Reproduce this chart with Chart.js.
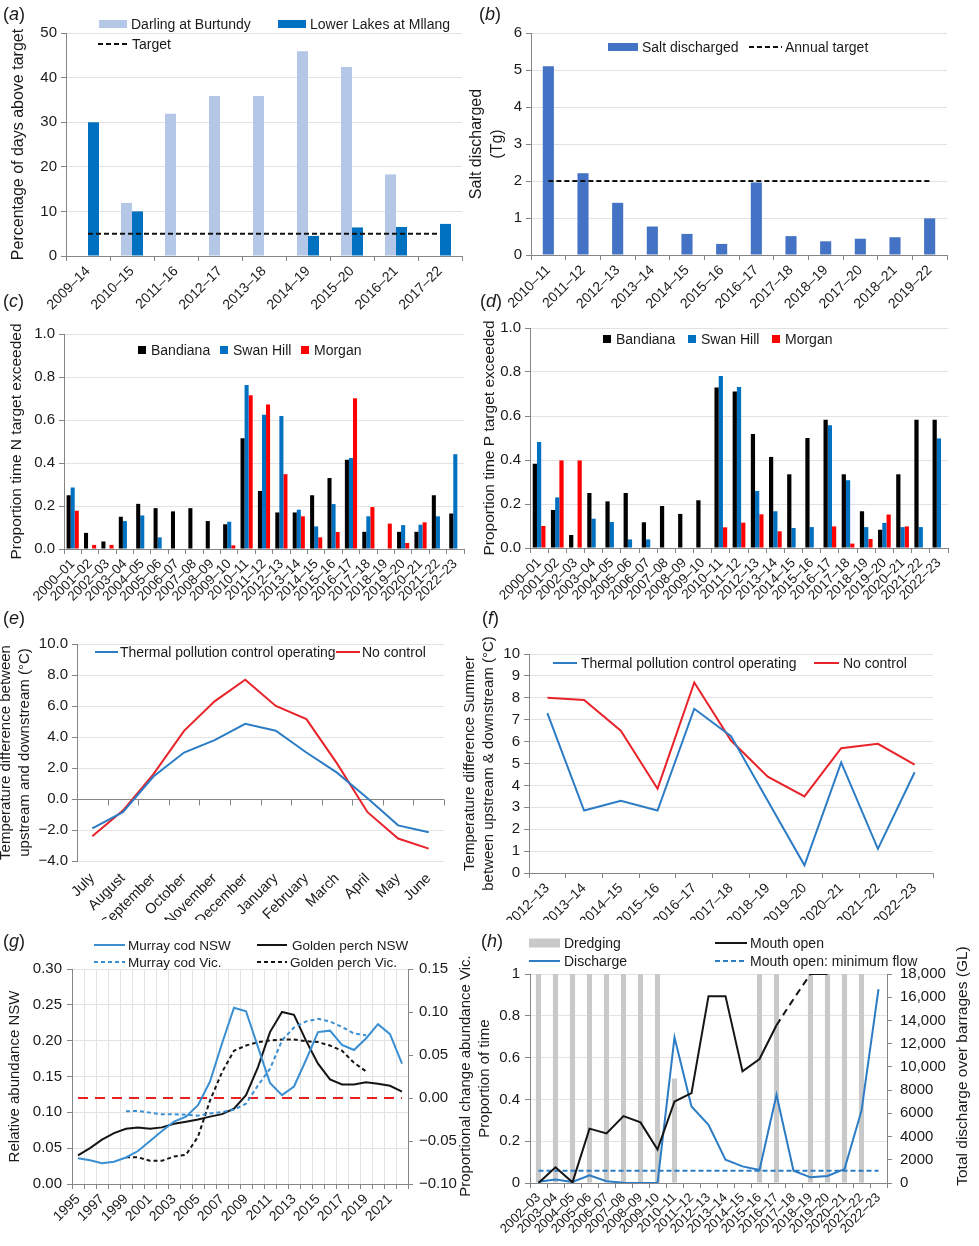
<!DOCTYPE html>
<html>
<head>
<meta charset="utf-8">
<title>River condition indicators</title>
<script src="https://cdn.jsdelivr.net/npm/chart.js@4.4.0/dist/chart.umd.min.js"></script>
<style>
  body { margin: 0; background: #fff; }
  #page { position: relative; width: 979px; height: 1246px; overflow: hidden; background: #fff;
          font-family: "Liberation Sans", Arial, Helvetica, sans-serif; color: #1a1a1a; }
  #page canvas { position: absolute; }
  .tag { position: absolute; font-size: 18px; line-height: 20px; }
</style>
</head>
<body>
<div id="page">
  <canvas id="chartA" width="470" height="310" style="left:0;top:0"></canvas>
  <canvas id="chartB" width="513" height="310" style="left:466px;top:0"></canvas>
  <canvas id="chartC" width="480" height="310" style="left:0;top:310px"></canvas>
  <canvas id="chartD" width="499" height="310" style="left:480px;top:310px"></canvas>
  <canvas id="chartE" width="464" height="300" style="left:-4px;top:620px"></canvas>
  <canvas id="chartF" width="519" height="300" style="left:460px;top:620px"></canvas>
  <canvas id="chartG" width="480" height="326" style="left:0;top:920px"></canvas>
  <canvas id="chartH" width="503" height="326" style="left:476px;top:920px"></canvas>

  <span class="tag" style="left:3px;top:4px">(<i>a</i>)</span>
  <span class="tag" style="left:479px;top:4px">(<i>b</i>)</span>
  <span class="tag" style="left:3px;top:291px">(<i>c</i>)</span>
  <span class="tag" style="left:480px;top:291px">(<i>d</i>)</span>
  <span class="tag" style="left:3px;top:608px">(<i>e</i>)</span>
  <span class="tag" style="left:482px;top:608px">(<i>f</i>)</span>
  <span class="tag" style="left:3px;top:931px">(<i>g</i>)</span>
  <span class="tag" style="left:481px;top:931px">(<i>h</i>)</span>
</div>

<script>
// ---------- data ----------

// (a) salinity, % of days above target
const periodsA = ['2009–14', '2010–15', '2011–16', '2012–17', '2013–18', '2014–19', '2015–20', '2016–21', '2017–22'];
const darlingBurtundy = [null, 11.9, 31.9, 35.9, 35.9, 45.9, 42.4, 18.3, null];
const lowerLakesMilang = [30, 10, null, null, null, 4.5, 6.4, 6.5, 7.2];
const salinityTarget = [5, 5, 5, 5, 5, 5, 5, 5, 5];

// (b) salt discharged (Tg)
const periodsB = ['2010–11', '2011–12', '2012–13', '2013–14', '2014–15', '2015–16', '2016–17', '2017–18', '2018–19', '2017–20', '2018–21', '2019–22'];
const saltDischarged = [5.1, 2.21, 1.41, 0.77, 0.57, 0.3, 1.96, 0.51, 0.37, 0.44, 0.48, 0.99];
const saltTarget = [2, 2, 2, 2, 2, 2, 2, 2, 2, 2, 2, 2];

// (c) and (d) nutrients, proportion of time target exceeded
const waterYears = ['2000–01', '2001–02', '2002–03', '2003–04', '2004–05', '2005–06', '2006–07', '2007–08',
  '2008–09', '2009–10', '2010–11', '2011–12', '2012–13', '2013–14', '2014–15', '2015–16', '2016–17',
  '2017–18', '2018–19', '2019–20', '2020–21', '2021–22', '2022–23'];
const nBandiana = [0.25, 0.075, 0.035, 0.15, 0.21, 0.19, 0.175, 0.19, 0.13, 0.115, 0.515, 0.27, 0.17, 0.17, 0.25, 0.33, 0.415, 0.08, null, 0.08, 0.08, 0.25, 0.165];
const nSwanHill = [0.286, null, null, 0.13, 0.156, 0.054, null, null, null, 0.127, 0.763, 0.624, 0.619, 0.183, 0.105, 0.209, 0.423, 0.152, null, 0.111, 0.113, 0.152, 0.441];
const nMorgan = [0.178, 0.019, 0.019, null, null, null, null, null, null, 0.017, 0.715, 0.672, 0.348, 0.152, 0.054, 0.079, 0.701, 0.195, 0.118, 0.028, 0.124, null, null];
const pBandiana = [0.383, 0.173, 0.059, 0.25, 0.212, 0.25, 0.117, 0.191, 0.155, 0.217, 0.73, 0.711, 0.518, 0.414, 0.335, 0.5, 0.583, 0.335, 0.167, 0.083, 0.335, 0.583, 0.583];
const pSwanHill = [0.482, 0.23, null, 0.133, 0.118, 0.039, 0.039, null, null, null, 0.782, 0.732, 0.259, 0.167, 0.091, 0.095, 0.558, 0.308, 0.095, 0.114, 0.095, 0.095, 0.498];
const pMorgan = [0.1, 0.398, 0.398, null, null, null, null, null, null, null, 0.094, 0.115, 0.153, 0.076, null, null, 0.098, 0.02, 0.041, 0.152, 0.098, null, null];

// (e) monthly temperature difference (°C)
const months = ['July', 'August', 'September', 'October', 'November', 'December', 'January', 'February', 'March', 'April', 'May', 'June'];
const monthlyControl = [-1.9, -0.85, 1.45, 3.0, 3.8, 4.85, 4.4, 3.0, 1.7, 0.05, -1.7, -2.15];
const monthlyNoControl = [-2.4, -0.75, 1.6, 4.4, 6.3, 7.7, 6.0, 5.15, 2.3, -0.85, -2.55, -3.2];

// (f) summer temperature difference (°C)
const summers = ['2012–13', '2013–14', '2014–15', '2015–16', '2016–17', '2017–18', '2018–19', '2019–20', '2020–21', '2021–22', '2022–23'];
const summerControl = [7.3, 2.85, 3.3, 2.85, 7.5, 6.25, 3.3, 0.35, 5.05, 1.1, 4.6];
const summerNoControl = [8.0, 7.9, 6.5, 3.85, 8.7, 6.05, 4.4, 3.5, 5.7, 5.9, 4.95];

// (g) fish abundance
const fishYears = ['1995', '1996', '1997', '1998', '1999', '2000', '2001', '2002', '2003', '2004', '2005', '2006', '2007', '2008',
  '2009', '2010', '2011', '2012', '2013', '2014', '2015', '2016', '2017', '2018', '2019', '2020', '2021', '2022'];
const codNSW = [0.036, 0.033, 0.029, 0.031, 0.037, 0.046, 0.06, 0.074, 0.087, 0.094, 0.11, 0.143, 0.196, 0.246,
  0.241, 0.191, 0.141, 0.124, 0.136, 0.173, 0.212, 0.214, 0.194, 0.187, 0.203, 0.223, 0.209, 0.168];
const perchNSW = [0.04, 0.05, 0.062, 0.071, 0.077, 0.079, 0.077, 0.079, 0.084, 0.087, 0.09, 0.094, 0.0975, 0.105,
  0.124, 0.163, 0.212, 0.24, 0.236, 0.2, 0.168, 0.146, 0.139, 0.139, 0.142, 0.14, 0.137, 0.129];
const codVic = [null, null, null, null, -0.0155, -0.015, -0.017, -0.019, -0.019, -0.0194, -0.0205, -0.018, -0.0163, -0.0136,
  -0.0066, 0.0147, 0.034, 0.067, 0.082, 0.089, 0.092, 0.089, 0.0826, 0.075, 0.073, null, null, null];
const perchVic = [null, null, null, null, -0.069, -0.069, -0.073, -0.073, -0.068, -0.066, -0.045, -0.003, 0.03, 0.055,
  0.061, 0.065, 0.067, 0.068, 0.068, 0.066, 0.065, 0.061, 0.055, 0.041, 0.031, null, null, null];
const vicNoChange = [0, 0, 0, 0, 0, 0, 0, 0, 0, 0, 0, 0, 0, 0, 0, 0, 0, 0, 0, 0, 0, 0, 0, 0, 0, 0, 0, 0];

// (h) Murray Mouth
const mouthYears = ['2002–03', '2003–04', '2004–05', '2005–06', '2006–07', '2007–08', '2008–09', '2009–10', '2010–11',
  '2011–12', '2012–13', '2013–14', '2014–15', '2015–16', '2016–17', '2017–18', '2018–19', '2019–20', '2020–21', '2021–22', '2022–23'];
const dredging = [1, 1, 1, 1, 1, 1, 1, 1, 0.5, null, null, null, null, 1, 1, null, 1, 1, 1, 1, null];
const mouthOpen = [0, 0.075, 0.003, 0.26, 0.237, 0.32, 0.29, 0.16, 0.39, 0.43, 0.894, 0.894, 0.534, 0.593, 0.755, 0.88, 1, 1, null, null, null];
const dischargeGL = [100, 290, 90, 660, 150, 30, 0, 0, 12550, 6590, 5020, 2010, 1430, 1120, 7600, 1060, 490, 600, 1200, 6230, 16700];
const minimumFlowGL = [1060, 1060, 1060, 1060, 1060, 1060, 1060, 1060, 1060, 1060, 1060, 1060, 1060, 1060, 1060, 1060, 1060, 1060, 1060, 1060, 1060];
const mouthOpenEstimated = ['2016–17', '2017–18', '2018–19']; // drawn dashed

// ---------- styling ----------
const AXIS = '#858585';
const GRID = '#e2e2e2';
const TEXT = '#1a1a1a';
const LIGHT_BLUE = '#b4c7e7';
const DARK_BLUE = '#0070c0';
const SALT_BLUE = '#4472c4';
const LINE_BLUE = '#2b7cc4';
const LINE_RED = '#e8232a';
const FISH_BLUE = '#3a8fd2';

Chart.defaults.font.family = '"Liberation Sans", Arial, Helvetica, sans-serif';
Chart.defaults.font.size = 15;
Chart.defaults.color = TEXT;
Chart.defaults.animation = false;
Chart.defaults.responsive = false;
Chart.defaults.plugins.legend.display = false;
Chart.defaults.plugins.tooltip.enabled = false;
Chart.defaults.elements.point.radius = 0;
Chart.defaults.elements.line.borderWidth = 2;

// legend entries and right-hand titles drawn at fixed spots on each panel
const panelLegend = {
  id: 'panelLegend',
  afterDraw(chart, args, opts) {
    const ctx = chart.ctx;
    ctx.save();
    ctx.font = (opts.fontSize || 14) + 'px ' + Chart.defaults.font.family;
    ctx.textBaseline = 'middle';
    (opts.items || []).forEach(item => {
      const ds = chart.data.datasets[item.ds];
      if (item.kind === 'box') {
        ctx.fillStyle = ds.backgroundColor;
        ctx.fillRect(item.x, item.y - item.h / 2, item.w, item.h);
      } else {
        ctx.strokeStyle = ds.borderColor;
        ctx.lineWidth = ds.borderWidth || 2;
        ctx.setLineDash(ds.borderDash || []);
        ctx.beginPath();
        ctx.moveTo(item.x, item.y);
        ctx.lineTo(item.x + item.w, item.y);
        ctx.stroke();
        ctx.setLineDash([]);
      }
      ctx.fillStyle = TEXT;
      ctx.textAlign = 'left';
      ctx.fillText(ds.label, item.x + item.w + (item.gap || 4), item.y + 1);
    });
    (opts.sideTitles || []).forEach(t => {
      ctx.save();
      ctx.translate(t.x, t.y);
      ctx.rotate(-Math.PI / 2);
      ctx.textAlign = 'center';
      ctx.font = t.size + 'px ' + Chart.defaults.font.family;
      ctx.fillStyle = TEXT;
      ctx.fillText(t.text, 0, 0);
      ctx.restore();
    });
    ctx.restore();
  }
};
Chart.register(panelLegend);

// dark axis line across y = 0 with tick marks between categories (panel e)
const zeroAxis = {
  id: 'zeroAxis',
  beforeDatasetsDraw(chart) {
    const { ctx, chartArea, scales: { x, y } } = chart;
    const y0 = Math.round(y.getPixelForValue(0)) + 0.5;
    ctx.save();
    ctx.strokeStyle = AXIS;
    ctx.lineWidth = 1;
    ctx.beginPath();
    ctx.moveTo(chartArea.left, y0);
    ctx.lineTo(chartArea.right, y0);
    for (let i = 0; i <= x.ticks.length; i++) {
      const px = Math.round(x.getPixelForValue(i - 0.5)) + 0.5;
      ctx.moveTo(px, y0);
      ctx.lineTo(px, y0 + 6);
    }
    ctx.stroke();
    ctx.restore();
  }
};

function valueAxis(o) {
  const axis = {
    position: o.position || 'left',
    min: o.min,
    max: o.max,
    afterFit: s => { s.width = o.width; },
    grid: { drawOnChartArea: o.grid !== false, color: GRID, tickColor: AXIS, tickLength: 5 },
    border: { color: AXIS },
    ticks: { stepSize: o.step, padding: o.pad || 4, font: { size: o.fontSize || 15 } }
  };
  if (o.format) axis.ticks.callback = o.format;
  if (o.title) {
    axis.title = {
      display: true, text: o.title,
      font: { size: o.titleSize || 15, lineHeight: o.titleLH || 1.2 },
      padding: { top: o.titlePad || 0, bottom: 0 }
    };
  }
  return axis;
}

function categoryAxis(o) {
  const axis = {
    type: 'category',
    offset: true,
    afterFit: s => { s.height = o.height; },
    grid: { offset: true, drawOnChartArea: !!o.vgrid, color: GRID, tickColor: AXIS, tickLength: 5 },
    border: { color: AXIS },
    ticks: { autoSkip: false, minRotation: 45, maxRotation: 45, padding: 2, font: { size: o.fontSize || 14 } }
  };
  if (o.callback) axis.ticks.callback = o.callback;
  return axis;
}

const signed = digits => v => (v < 0 ? '−' + Math.abs(v).toFixed(digits) : v.toFixed(digits));

// (a)
new Chart(document.getElementById('chartA'), {
  type: 'bar',
  data: {
    labels: periodsA,
    datasets: [
      { label: 'Darling at Burtundy', data: darlingBurtundy, backgroundColor: LIGHT_BLUE, barPercentage: 1, categoryPercentage: 0.5, order: 2 },
      { label: 'Lower Lakes at Mllang', data: lowerLakesMilang, backgroundColor: DARK_BLUE, barPercentage: 1, categoryPercentage: 0.5, order: 2 },
      { type: 'line', label: 'Target', data: salinityTarget, borderColor: '#111', borderWidth: 2, borderDash: [5, 3], order: 1 }
    ]
  },
  options: {
    layout: { padding: { top: 33, right: 8 } },
    scales: {
      x: categoryAxis({ height: 54 }),
      y: valueAxis({ min: 0, max: 50, step: 10, width: 66, title: 'Percentage of days above target', titleSize: 16, titlePad: 9 })
    },
    plugins: {
      panelLegend: { items: [
        { ds: 0, kind: 'box', x: 99, y: 24, w: 28, h: 8 },
        { ds: 1, kind: 'box', x: 278, y: 24, w: 28, h: 8 },
        { ds: 2, kind: 'line', x: 98, y: 44, w: 30 }
      ] }
    }
  }
});

// (b)
new Chart(document.getElementById('chartB'), {
  type: 'bar',
  data: {
    labels: periodsB,
    datasets: [
      { label: 'Salt discharged', data: saltDischarged, backgroundColor: SALT_BLUE, barPercentage: 1, categoryPercentage: 0.32, order: 2 },
      { type: 'line', label: 'Annual target', data: saltTarget, borderColor: '#111', borderWidth: 2, borderDash: [5, 3], order: 1 }
    ]
  },
  options: {
    layout: { padding: { top: 33, right: 32 } },
    scales: {
      x: categoryAxis({ height: 55 }),
      y: valueAxis({ min: 0, max: 6, step: 1, width: 65, title: ['Salt discharged', '(Tg)'], titleSize: 16, titleLH: 1.3 })
    },
    plugins: {
      panelLegend: { items: [
        { ds: 0, kind: 'box', x: 142, y: 47, w: 30, h: 8 },
        { ds: 1, kind: 'line', x: 283, y: 47, w: 33, gap: 3 }
      ] }
    }
  }
});

// (c) and (d)
function nutrientChart(id, series, layout) {
  new Chart(document.getElementById(id), {
    type: 'bar',
    data: {
      labels: waterYears,
      datasets: [
        { label: 'Bandiana', data: series[0], backgroundColor: '#000000', barPercentage: 1, categoryPercentage: 0.7 },
        { label: 'Swan Hill', data: series[1], backgroundColor: DARK_BLUE, barPercentage: 1, categoryPercentage: 0.7 },
        { label: 'Morgan', data: series[2], backgroundColor: '#ff0000', barPercentage: 1, categoryPercentage: 0.7 }
      ]
    },
    options: {
      layout: { padding: { top: layout.top, right: layout.right } },
      scales: {
        x: categoryAxis({ height: layout.xHeight, fontSize: 13.5 }),
        y: valueAxis({ min: 0, max: 1, step: 0.2, width: layout.yWidth, format: v => v.toFixed(1),
          title: layout.title, titleSize: 15.5, titlePad: layout.titlePad })
      },
      plugins: {
        panelLegend: { items: layout.legendX.map((x, i) => ({ ds: i, kind: 'box', x: x, y: layout.legendY, w: 8, h: 8, gap: 5 })) }
      }
    }
  });
}
nutrientChart('chartC', [nBandiana, nSwanHill, nMorgan],
  { top: 24, right: 16, xHeight: 71, yWidth: 64, title: 'Proportion time N target exceeded', titlePad: 7, legendX: [138, 220, 301], legendY: 40 });
nutrientChart('chartD', [pBandiana, pSwanHill, pMorgan],
  { top: 18, right: 31, xHeight: 72, yWidth: 50, title: 'Proportion time P target exceeded', titlePad: 0, legendX: [123, 208, 292], legendY: 29 });

// (e)
const xE = categoryAxis({ height: 59, fontSize: 14.5 });
xE.border = { display: false };
xE.grid = { offset: true, drawOnChartArea: false, drawTicks: false };
xE.ticks.padding = 9;
new Chart(document.getElementById('chartE'), {
  type: 'line',
  data: {
    labels: months,
    datasets: [
      { label: 'Thermal pollution control operating', data: monthlyControl, borderColor: LINE_BLUE },
      { label: 'No control', data: monthlyNoControl, borderColor: LINE_RED }
    ]
  },
  options: {
    layout: { padding: { top: 24, right: 16 } },
    scales: {
      x: xE,
      y: valueAxis({ min: -4, max: 10, step: 2, width: 81, format: signed(1),
        title: ['Temperature difference between', 'upstream and downstream (°C)'], titleLH: 1.3 })
    },
    plugins: {
      panelLegend: { items: [
        { ds: 0, kind: 'line', x: 99, y: 32, w: 23, gap: 2 },
        { ds: 1, kind: 'line', x: 340, y: 32, w: 24, gap: 2 }
      ] }
    }
  },
  plugins: [zeroAxis]
});

// (f)
new Chart(document.getElementById('chartF'), {
  type: 'line',
  data: {
    labels: summers,
    datasets: [
      { label: 'Thermal pollution control operating', data: summerControl, borderColor: LINE_BLUE },
      { label: 'No control', data: summerNoControl, borderColor: LINE_RED }
    ]
  },
  options: {
    layout: { padding: { top: 34, right: 46 } },
    scales: {
      x: categoryAxis({ height: 47 }),
      y: valueAxis({ min: 0, max: 10, step: 1, width: 69,
        title: ['Temperature difference Summer', 'between upstream & downstream (°C)'], titleLH: 1.3 })
    },
    plugins: {
      panelLegend: { items: [
        { ds: 0, kind: 'line', x: 93, y: 43, w: 24 },
        { ds: 1, kind: 'line', x: 354, y: 43, w: 25 }
      ] }
    }
  }
});

// (g)
new Chart(document.getElementById('chartG'), {
  type: 'line',
  data: {
    labels: fishYears,
    datasets: [
      { label: 'Murray cod NSW', data: codNSW, borderColor: FISH_BLUE, yAxisID: 'y' },
      { label: 'Murray cod Vic.', data: codVic, borderColor: FISH_BLUE, borderDash: [4, 3], yAxisID: 'y2' },
      { label: 'Golden perch NSW', data: perchNSW, borderColor: '#151515', yAxisID: 'y' },
      { label: 'Golden perch Vic.', data: perchVic, borderColor: '#151515', borderDash: [4, 3], yAxisID: 'y2' },
      { label: 'No change', data: vicNoChange, borderColor: '#e82020', borderDash: [10, 7], yAxisID: 'y2' }
    ]
  },
  options: {
    layout: { padding: { top: 49 } },
    scales: {
      x: categoryAxis({ height: 62, vgrid: true, callback: function (v, i) { return i % 2 === 0 ? this.getLabelForValue(v) : ''; } }),
      y: valueAxis({ min: 0, max: 0.3, step: 0.05, width: 72, pad: 5, format: v => v.toFixed(2),
        title: 'Relative abundance NSW', titlePad: 6 }),
      y2: valueAxis({ position: 'right', min: -0.1, max: 0.15, step: 0.05, width: 72, pad: 6, grid: false, format: signed(2) })
    },
    plugins: {
      panelLegend: {
        fontSize: 13.5,
        items: [
          { ds: 0, kind: 'line', x: 94, y: 25, w: 31, gap: 3 },
          { ds: 2, kind: 'line', x: 257, y: 25, w: 30, gap: 5 },
          { ds: 1, kind: 'line', x: 94, y: 42, w: 31, gap: 3 },
          { ds: 3, kind: 'line', x: 257, y: 42, w: 30, gap: 3 }
        ],
        sideTitles: [{ text: 'Proportional change abundance Vic.', x: 466, y: 156, size: 15 }]
      }
    }
  }
});

// (h)
new Chart(document.getElementById('chartH'), {
  type: 'bar',
  data: {
    labels: mouthYears,
    datasets: [
      { label: 'Dredging', data: dredging, backgroundColor: '#c9c9c9', barPercentage: 1, categoryPercentage: 0.3, yAxisID: 'y', order: 3 },
      { type: 'line', label: 'Discharge', data: dischargeGL, borderColor: LINE_BLUE, yAxisID: 'y2', order: 2 },
      { type: 'line', label: 'Mouth open', data: mouthOpen, borderColor: '#151515', yAxisID: 'y', order: 1,
        segment: {
          borderDash: ctx => (mouthOpenEstimated.includes(mouthYears[ctx.p0DataIndex]) &&
            mouthOpenEstimated.includes(mouthYears[ctx.p1DataIndex]) ? [7, 5] : undefined)
        } },
      { type: 'line', label: 'Mouth open: minimum flow', data: minimumFlowGL, borderColor: LINE_BLUE, borderDash: [5, 3], yAxisID: 'y2', order: 2 }
    ]
  },
  options: {
    layout: { padding: { top: 54 } },
    scales: {
      x: categoryAxis({ height: 63, fontSize: 13 }),
      y: valueAxis({ min: 0, max: 1, step: 0.2, width: 54, pad: 5, format: v => String(+v.toFixed(1)),
        title: 'Proportion of time', titlePad: 0 }),
      y2: valueAxis({ position: 'right', min: 0, max: 18000, step: 2000, width: 92, pad: 8, grid: false,
        format: v => (v >= 10000 ? v.toLocaleString('en-US') : String(v)) })
    },
    plugins: {
      panelLegend: {
        items: [
          { ds: 0, kind: 'box', x: 53, y: 23, w: 31, h: 9 },
          { ds: 2, kind: 'line', x: 239, y: 23, w: 32, gap: 3 },
          { ds: 1, kind: 'line', x: 53, y: 41, w: 31 },
          { ds: 3, kind: 'line', x: 239, y: 41, w: 32, gap: 3 }
        ],
        sideTitles: [{ text: 'Total discharge over barrages (GL)', x: 487, y: 146, size: 15.5 }]
      }
    }
  }
});
</script>
</body>
</html>
